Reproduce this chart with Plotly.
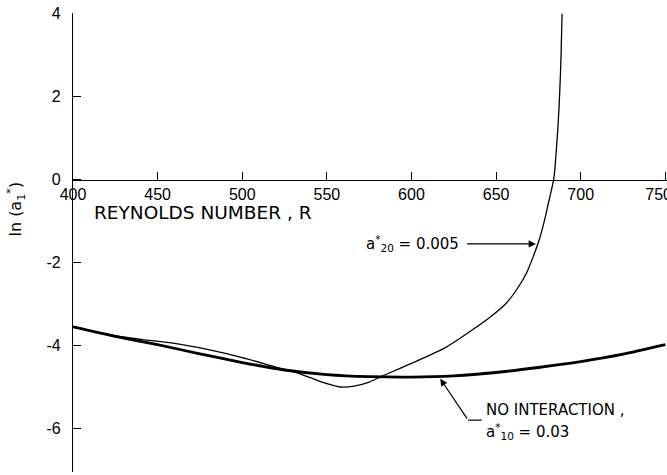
import plotly.graph_objects as go

# ---- data ----
R_no_interaction = [400, 425, 450, 475, 500, 525, 550, 575, 600, 625, 650, 675, 700, 725, 750]
ln_a1_no_interaction = [-3.55, -3.78, -3.98, -4.20, -4.41, -4.59, -4.70, -4.75, -4.76, -4.73, -4.65, -4.53, -4.39, -4.21, -3.98]

R_interaction = [400, 425, 440, 460, 480, 500, 520, 530, 540, 550, 558, 566, 575, 582, 600, 620,
                 635, 646, 656, 663, 668, 672, 675.5, 678.5, 681, 683, 684.2, 685.4, 686.6, 687.6, 688.4, 689]
ln_a1_interaction = [-3.55, -3.76, -3.85, -3.95, -4.10, -4.29, -4.52, -4.63, -4.77, -4.92, -5.00, -4.98,
                     -4.88, -4.75, -4.43, -4.05, -3.65, -3.33, -2.98, -2.60, -2.25, -1.85, -1.45, -1.0,
                     -0.55, -0.2, 0.05, 0.6, 1.3, 2.1, 3.0, 4.0]

x_ticks = [400, 450, 500, 550, 600, 650, 700, 750]
x_tick_text = ["400", "450", "500", "550", "600", "650", "700", "750\u00a0\u00a0\u00a0"]
y_ticks = [-6, -4, -2, 0, 2, 4]
y_tick_text = ["-6", "-4", "-2", "0", "2", "4"]

Y_MIN, Y_MAX = -7.05, 4.02
X_MIN, X_MAX = 400, 751

FIG_W, FIG_H = 667, 475
M_L, M_R, M_T, M_B = 73, 0, 13, 3
PLOT_W = FIG_W - M_L - M_R

fig = go.Figure()
fig.add_trace(go.Scatter(x=R_no_interaction, y=ln_a1_no_interaction, mode="lines",
                         line=dict(color="black", width=2.8, shape="spline", smoothing=0.6),
                         showlegend=False, hoverinfo="skip"))
fig.add_trace(go.Scatter(x=R_interaction, y=ln_a1_interaction, mode="lines",
                         line=dict(color="black", width=1.3, shape="spline", smoothing=0.8),
                         showlegend=False, hoverinfo="skip"))

x_axis_pos = (0 - Y_MIN) / (Y_MAX - Y_MIN)

fig.update_layout(
    width=FIG_W, height=FIG_H,
    margin=dict(l=M_L, r=M_R, t=M_T, b=M_B, autoexpand=False),
    paper_bgcolor="white", plot_bgcolor="white",
    font=dict(family="Liberation Sans", color="black", size=16),
    xaxis=dict(range=[X_MIN, X_MAX], anchor="free", position=x_axis_pos,
               showline=True, linecolor="black", linewidth=1.3,
               ticks="inside", ticklen=8, tickwidth=1.3, tickcolor="black",
               tickvals=x_ticks, ticktext=x_tick_text,
               showgrid=False, zeroline=False, tickfont=dict(size=16),
               ticklabelstandoff=0, ticklabeloverflow="allow", automargin=False),
    yaxis=dict(range=[Y_MIN, Y_MAX], showline=True, linecolor="black", linewidth=1.3,
               ticks="inside", ticklen=8, tickwidth=1.3, tickcolor="black",
               tickvals=y_ticks, ticktext=y_tick_text,
               showgrid=False, zeroline=False, tickfont=dict(size=16),
               ticklabelstandoff=8, ticklabeloverflow="allow", automargin=False),
)

ytitle_x = (16 - M_L) / PLOT_W

anns = [
    dict(x=411.5, y=-0.8, xref="x", yref="y", text="REYNOLDS NUMBER , R", showarrow=False,
         xanchor="left", yanchor="middle", font=dict(family="DejaVu Sans", size=18.5)),
    dict(x=ytitle_x, y=-0.72, xref="paper", yref="y", text="ln (a<sub>1</sub><sup>*</sup>)",
         showarrow=False, textangle=-90, xanchor="center", yanchor="middle",
         font=dict(family="DejaVu Sans", size=16)),
    dict(x=629, y=-1.55, xref="x", yref="y", text="a<sup>*</sup><sub>20</sub> = 0.005",
         showarrow=False, xanchor="right", yanchor="middle",
         font=dict(family="DejaVu Sans", size=15)),
    dict(x=673.5, y=-1.55, xref="x", yref="y", ax=632, ay=-1.55, axref="x", ayref="y",
         text="", showarrow=True, arrowhead=2, arrowsize=1.2, arrowwidth=1.2, arrowcolor="black"),
    dict(x=643, y=-5.55, xref="x", yref="y", text="NO INTERACTION ,", showarrow=False,
         xanchor="left", yanchor="middle", font=dict(family="DejaVu Sans", size=15)),
    dict(x=643, y=-6.08, xref="x", yref="y", text="a<sup>*</sup><sub>10</sub> = 0.03",
         showarrow=False, xanchor="left", yanchor="middle",
         font=dict(family="DejaVu Sans", size=15)),
    dict(x=617, y=-4.8, xref="x", yref="y", ax=633.5, ay=-5.8, axref="x", ayref="y",
         text="", showarrow=True, arrowhead=2, arrowsize=1.2, arrowwidth=1.2, arrowcolor="black"),
]
fig.update_layout(annotations=anns)
fig.add_shape(type="line", x0=633.5, y0=-5.8, x1=641.5, y1=-5.8, xref="x", yref="y",
              line=dict(color="black", width=1.2))

PAGE_CSS_JS = ("document.body.style.margin='0';document.body.style.overflow='hidden';"
               "document.documentElement.style.overflow='hidden';")

fig.write_html("out.html", post_script=PAGE_CSS_JS, config={"displayModeBar": False})
